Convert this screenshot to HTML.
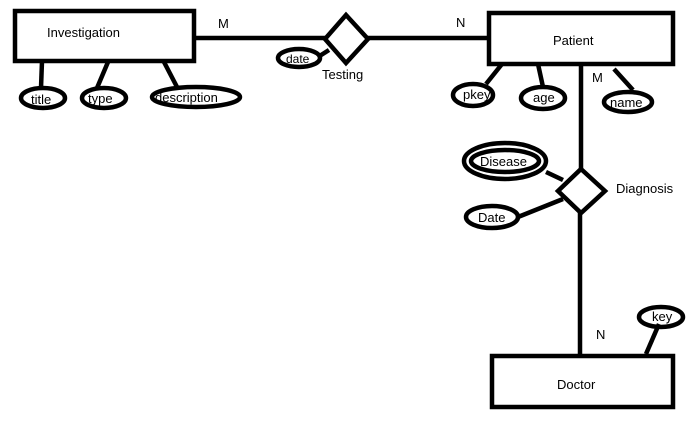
<!DOCTYPE html>
<html><head><meta charset="utf-8"><style>
html,body{margin:0;padding:0;background:#fff;}
svg text{font-family:"Liberation Sans",sans-serif;font-size:13px;fill:#000;}
</style></head><body>
<svg width="688" height="427" viewBox="0 0 688 427" xmlns="http://www.w3.org/2000/svg">
<g fill="none" stroke="#000" stroke-width="4.5">
<!-- Investigation -->
<rect x="15" y="11" width="179" height="50"/>
<line x1="194" y1="38" x2="325" y2="38"/>
<polygon points="346,15 368,39 346,63 325,39"/>
<line x1="368" y1="38" x2="489" y2="38"/>
<!-- attributes investigation -->
<line x1="42" y1="61" x2="41" y2="88"/>
<line x1="108" y1="62" x2="97" y2="88"/>
<line x1="164" y1="62" x2="177" y2="87"/>
<ellipse cx="43" cy="98" rx="22" ry="10"/>
<ellipse cx="104" cy="98" rx="22" ry="10"/>
<ellipse cx="196" cy="97" rx="44" ry="10"/>
<line x1="329" y1="50" x2="318" y2="57"/>
<ellipse cx="299" cy="58" rx="21" ry="9"/>
<!-- Patient -->
<rect x="489" y="13" width="184" height="51"/>
<line x1="502" y1="64" x2="486" y2="84"/>
<line x1="538" y1="64" x2="543" y2="87"/>
<line x1="614" y1="69" x2="633" y2="90"/>
<ellipse cx="473" cy="95" rx="20" ry="11"/>
<ellipse cx="543" cy="98" rx="22" ry="11"/>
<ellipse cx="628" cy="102" rx="24" ry="10"/>
<line x1="581" y1="64" x2="581" y2="169"/>
<!-- Diagnosis -->
<polygon points="581,169 605,191 581,213 558,191"/>
<ellipse cx="505" cy="161" rx="41" ry="18"/>
<ellipse cx="505" cy="161" rx="34" ry="11"/>
<line x1="546" y1="172" x2="563" y2="180"/>
<line x1="518" y1="217" x2="563" y2="199"/>
<ellipse cx="492" cy="217" rx="26" ry="11"/>
<line x1="580" y1="213" x2="580" y2="355"/>
<!-- Doctor -->
<rect x="492" y="356" width="181" height="51"/>
<line x1="646" y1="354" x2="659" y2="324"/>
<ellipse cx="661" cy="317" rx="22" ry="10"/>
</g>
<text x="47" y="37">Investigation</text>
<text x="218" y="28">M</text>
<text x="286" y="63" style="font-size:12px">date</text>
<text x="322" y="79">Testing</text>
<text x="456" y="27">N</text>
<text x="553" y="45">Patient</text>
<text x="31" y="104">title</text>
<text x="88" y="103">type</text>
<text x="155" y="102">description</text>
<text x="463" y="99">pkey</text>
<text x="533" y="102">age</text>
<text x="610" y="107">name</text>
<text x="592" y="82">M</text>
<text x="480" y="166">Disease</text>
<text x="616" y="193">Diagnosis</text>
<text x="478" y="222">Date</text>
<text x="596" y="339">N</text>
<text x="652" y="321">key</text>
<text x="557" y="389">Doctor</text>
</svg>
</body></html>
